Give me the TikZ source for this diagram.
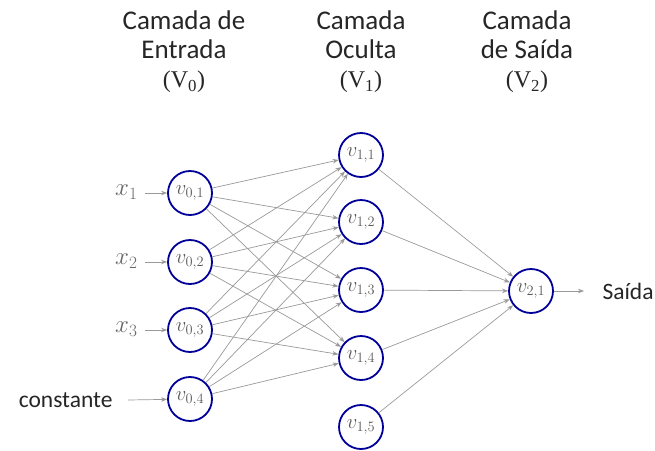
\documentclass[tikz,border=0pt]{standalone}
\usepackage{fontspec}
\setmainfont{Carlito}
\newfontfamily\serifv{Liberation Serif}
\usetikzlibrary{arrows.meta}
\begin{document}
\begin{tikzpicture}[x=1pt,y=-1pt,
  neuron/.style={circle,draw=blue!60!black,line width=1.8pt,minimum size=44pt,inner sep=0pt,font=\fontsize{22}{22}\selectfont,text=black!65},
  conn/.style={draw=black!40,line width=0.7pt,-{Stealth[length=6pt,width=4.5pt]}},
  head/.style={align=center,font=\fontsize{27}{29}\selectfont,text=black!85},
  inlab/.style={font=\fontsize{23}{23}\selectfont,text=black!60},
  txt/.style={font=\fontsize{23.5}{23.5}\selectfont,text=black!85}]
\useasboundingbox (0,0) rectangle (655,450);
\node[head] (h0) at (184,52) {Camada de\\Entrada\\{\serifv\fontsize{24}{29}\selectfont(V\textsubscript{0})}};
\node[head] (h1) at (361,52) {Camada\\Oculta\\{\serifv\fontsize{24}{29}\selectfont(V\textsubscript{1})}};
\node[head] (h2) at (527,52) {Camada\\de Saída\\{\serifv\fontsize{24}{29}\selectfont(V\textsubscript{2})}};
\foreach \i/\y in {1/193,2/262,3/330,4/399}
  \node[neuron] (a\i) at (190,\y) {$v_{0,\i}$};
\foreach \i/\y in {1/155,2/222,3/290,4/358,5/427}
  \node[neuron] (b\i) at (361,\y) {$v_{1,\i}$};
\node[neuron] (c1) at (531,291) {$v_{2,1}$};
\node[inlab,anchor=east] (x1) at (141,192) {$x_1$};
\node[inlab,anchor=east] (x2) at (141,261) {$x_2$};
\node[inlab,anchor=east] (x3) at (141,329) {$x_3$};
\node[txt,anchor=east] (x4) at (116,400) {constante};
\foreach \i/\y in {1/193,2/262,3/330} {
  \coordinate (s\i) at (145,\y);
  \draw[conn] (s\i) -- (a\i);
}
\coordinate (s4) at (128,400);
\draw[conn] (s4) -- (a4);
\foreach \i in {1,...,4} \foreach \j in {1,...,4} \draw[conn] (a\i) -- (b\j);
\foreach \j in {1,...,5} \draw[conn] (b\j) -- (c1);
\node[txt,anchor=west] (out) at (599,291) {Saída};
\coordinate (e1) at (584,291);
\draw[conn] (c1) -- (e1);
\end{tikzpicture}
\end{document}
